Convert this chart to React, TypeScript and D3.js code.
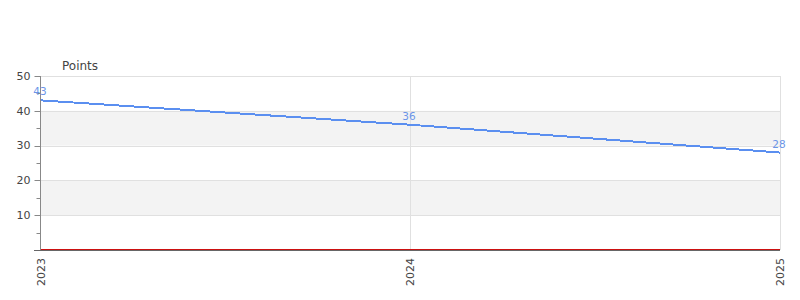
import React from "react";
import * as d3 from "d3";

const dates = ["2023-01-01", "2024-01-01", "2025-01-01"];
const points = [43, 36, 28];
const baseline = [0, 0, 0];
const yTicks = [10, 20, 30, 40, 50];
const yMinorTicks = [5, 15, 25, 35, 45];
const xTickLabels = ["2023", "2024", "2025"];
const bands = [[10, 20], [30, 40]];

const W = 800, H = 300;
const M = { left: 40.5, right: 780, top: 76, bottom: 250 };
const font = "DejaVu Sans, sans-serif";

export default function App() {
  const parse = d3.timeParse("%Y-%m-%d");
  const ds = dates.map((d) => parse(d) as Date);
  const x = d3.scaleTime().domain([ds[0], ds[2]]).range([M.left + 0.5, M.right]);
  const y = d3.scaleLinear().domain([0, 50]).range([M.bottom, M.top]);
  const line = d3.line<number>().x((_, i) => x(ds[i])).y((v) => y(v));
  const mainPath = line(points) || "";
  const basePath = line(baseline) || "";
  return (
    <svg width={W} height={H} style={{ position: "absolute", left: 0, top: 0, fontFamily: font }}>
      <rect width={W} height={H} fill="#fff" />
      {bands.map(([a, b], i) => (
        <rect key={i} x={M.left} y={y(b)} width={M.right - M.left} height={y(a) - y(b)} fill="#f3f3f3" />
      ))}
      {yTicks.map((t) => (
        <line key={t} x1={M.left} x2={M.right} y1={Math.round(y(t)) + 0.5} y2={Math.round(y(t)) + 0.5} stroke="#e0e0e0" />
      ))}
      {ds.slice(1).map((d, i) => (
        <line key={i} x1={Math.round(x(d)) + 0.5} x2={Math.round(x(d)) + 0.5} y1={M.top} y2={M.bottom} stroke="#e0e0e0" />
      ))}
      <line x1={M.left} x2={M.left} y1={M.top} y2={M.bottom} stroke="#888" />
      {yTicks.map((t) => (
        <g key={t}>
          <line x1={M.left - 6} x2={M.left} y1={Math.round(y(t)) + 0.5} y2={Math.round(y(t)) + 0.5} stroke="#888" />
          <text x={M.left - 10} y={y(t)} dy="0.35em" textAnchor="end" fontSize={11} fill="#444">{t}</text>
        </g>
      ))}
      {yMinorTicks.map((t) => (
        <line key={t} x1={M.left - 4} x2={M.left} y1={Math.round(y(t)) + 0.5} y2={Math.round(y(t)) + 0.5} stroke="#888" />
      ))}
      <text x={62} y={70} fontSize={12} fill="#444">Points</text>
      <line x1={34} x2={M.right} y1={M.bottom + 0.5} y2={M.bottom + 0.5} stroke="#666" />
      <path d={basePath} fill="none" stroke="#cc1111" strokeWidth={1} shapeRendering="crispEdges" transform="translate(0,-0.5)" />
      <path d={mainPath} fill="none" stroke="#5b8ff0" strokeWidth={2} shapeRendering="crispEdges" />
      {points.map((v, i) => (
        <text key={i} x={x(ds[i]) - 1} y={y(v) - 5} textAnchor="middle" fontSize={10.5} fill="#6b95e8">{v}</text>
      ))}
      {xTickLabels.map((l, i) => (
        <text key={l} transform={`translate(${x(ds[i]) + 4},${M.bottom + 8}) rotate(-90)`} textAnchor="end" fontSize={11} fill="#444">{l}</text>
      ))}
    </svg>
  );
}
